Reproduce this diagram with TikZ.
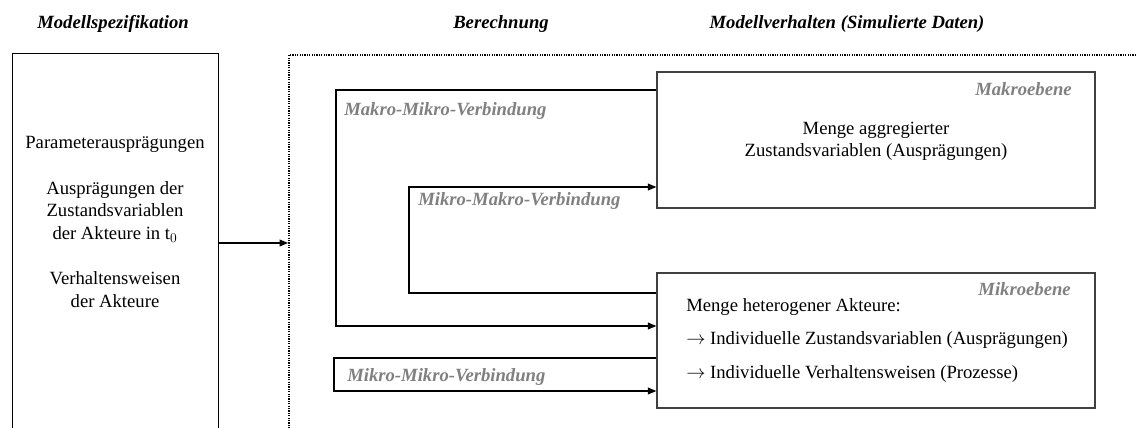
\documentclass[tikz,border=0pt]{standalone}
\usepackage{fontspec}
\setmainfont{Liberation Serif}
\usepackage{tikz}
\usetikzlibrary{arrows.meta, positioning}

\begin{document}
\begin{tikzpicture}[
    x=0.75pt, y=-0.75pt,
    every node/.style={font=\fontsize{14}{17}\selectfont, inner sep=0pt},
    coltitle/.style={font=\fontsize{14}{17}\selectfont\bfseries\itshape},
    linklabel/.style={font=\fontsize{14}{17}\selectfont\bfseries\itshape, text=black!50, anchor=west},
    levellabel/.style={font=\fontsize{14}{17}\selectfont\bfseries\itshape, text=black!50, anchor=east},
    specbox/.style={rectangle, draw=black, line width=0.75pt, minimum width=154.5pt, minimum height=297pt},
    calcframe/.style={rectangle, draw=black, line width=1.2pt, dash pattern=on 0.9pt off 0.9pt, minimum width=642pt, minimum height=296.25pt},
    levelbox/.style={rectangle, draw=black!75, line width=0.8pt, minimum width=328.5pt, minimum height=102pt},
    link/.style={line width=1.3pt},
    linkarrow/.style={link, -{Triangle[length=6.5pt, width=5pt]}}
]
\useasboundingbox (0,0) rectangle (1136,428);
\clip (0,0) rectangle (1136,428);

% ════════════════════════════════════════
% COLUMN TITLES
% ════════════════════════════════════════
\node[coltitle] (t-spec) at (113, 24) {Modellspezifikation};
\node[coltitle] (t-calc) at (501, 24) {Berechnung};
\node[coltitle] (t-sim)  at (847, 24) {Modellverhalten (Simulierte Daten)};

% ════════════════════════════════════════
% LEFT: MODELLSPEZIFIKATION
% ════════════════════════════════════════
\node[specbox] (spec) at (115, 252) {};
\node[align=center] (spectext) at (115, 222)
    {Parameterausprägungen\\[17pt]
     Ausprägungen der\\ Zustandsvariablen\\ der Akteure in t$_0$\\[17pt]
     Verhaltensweisen\\ der Akteure};

% ════════════════════════════════════════
% RIGHT: BERECHNUNG / MODELLVERHALTEN
% ════════════════════════════════════════
\node[calcframe] (berechnung) at (717, 252.5) {};

\node[levelbox] (makro) at (876, 140) {};
\node[levellabel] (makro-l) at (1072, 89) {Makroebene};
\node[align=center] (makro-t) at (876, 141.5)
    {Menge aggregierter\\ Zustandsvariablen (Ausprägungen)};

\node[levelbox, minimum height=101.25pt] (mikro) at (876, 340.5) {};
\node[levellabel] (mikro-l) at (1071, 289) {Mikroebene};
\node[align=left, anchor=west] (mikro-t) at (686, 340.5)
    {Menge heterogener Akteure:\\[8pt]
     $\rightarrow$ Individuelle Zustandsvariablen (Ausprägungen)\\[8pt]
     $\rightarrow$ Individuelle Verhaltensweisen (Prozesse)};

% ── connectors ──
\draw[linkarrow] (spec.east |- 0,243) -- (berechnung.west |- 0,243);

\draw[linkarrow] (makro.west |- 0,90) -| (336,326) -- (mikro.west |- 0,326);
\node[linklabel] (mm-up) at (344, 111) {Makro-Mikro-Verbindung};

\draw[linkarrow] (mikro.west |- 0,293) -| (409,187) -- (makro.west |- 0,187);
\node[linklabel] (mm-down) at (418, 201) {Mikro-Makro-Verbindung};

\draw[linkarrow] (mikro.west |- 0,358) -| (334,391) -- (mikro.west |- 0,391);
\node[linklabel] (mm-self) at (347, 377) {Mikro-Mikro-Verbindung};

\end{tikzpicture}
\end{document}
